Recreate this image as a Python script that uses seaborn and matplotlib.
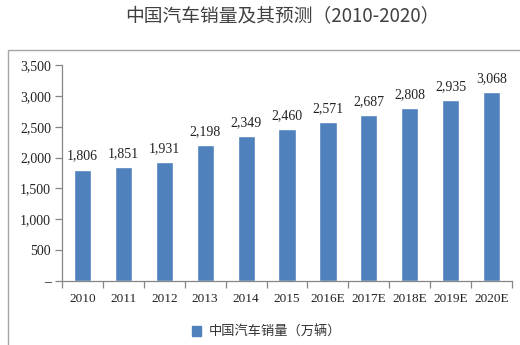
import matplotlib
matplotlib.use("Agg")
import matplotlib.pyplot as plt
import matplotlib.patches as mpatches
from matplotlib.ticker import FuncFormatter
import seaborn as sns
import pandas as pd

years = ["2010", "2011", "2012", "2013", "2014", "2015", "2016E", "2017E", "2018E", "2019E", "2020E"]
sales = [1806, 1851, 1931, 2198, 2349, 2460, 2571, 2687, 2808, 2935, 3068]
series_name = "中国汽车销量（万辆）"
title = "中国汽车销量及其预测（2010-2020）"

sns.set_theme(style="white")
plt.rcParams['font.family'] = ['Noto Sans CJK SC', 'DejaVu Sans']
num_font = ['Liberation Serif', 'DejaVu Serif']

df = pd.DataFrame({"year": years, "sales": sales})

fig = plt.figure(figsize=(5.2, 3.45), dpi=100)
ax = fig.add_axes([62/520, 1-281/345, (512-62)/520, (281-65)/345])

sns.barplot(data=df, x="year", y="sales", color="#4F81BD", width=0.42,
            saturation=1, ax=ax, label=series_name)

ax.set_ylim(0, 3500)
ax.set_xlim(-0.5, len(years)-0.5)
ax.set_yticks(range(0, 3501, 500))
ax.yaxis.set_major_formatter(FuncFormatter(lambda v, p: "–" if v == 0 else f"{int(v):,}"))
ax.set_xlabel("")
ax.set_ylabel("")

for s in ["top", "right"]:
    ax.spines[s].set_visible(False)
for s in ["left", "bottom"]:
    ax.spines[s].set_color("#868686")
    ax.spines[s].set_linewidth(0.9)

ax.tick_params(axis="y", which="major", length=5, width=0.9, color="#868686",
               direction="out", pad=3, labelsize=10, labelcolor="#222222", left=True)
ax.set_xticks([i - 0.5 for i in range(len(years) + 1)], minor=True)
ax.tick_params(axis="x", which="major", length=0, pad=9, labelsize=9.5, labelcolor="#222222")
ax.tick_params(axis="x", which="minor", length=5, width=0.9, color="#868686", direction="out", bottom=True)
for lab in ax.get_xticklabels() + ax.get_yticklabels():
    lab.set_family(num_font)

for c in ax.containers:
    ax.bar_label(c, labels=[f"{v:,}" for v in sales], padding=5,
                 fontsize=10, color="#222222", family=num_font)

if ax.legend_:
    ax.legend_.remove()
handle = mpatches.Patch(color="#4F81BD")
fig.legend([handle], [series_name], loc="center left",
           bbox_to_anchor=(180/520, 1-332/345), frameon=False,
           fontsize=9.5, handlelength=0.7, handleheight=0.7, handletextpad=0.6,
           labelcolor="#333333")

fig.text(282/520, 1-17/345, title, ha="center", va="center", fontsize=13.5, color="#404040")

rect = mpatches.Rectangle((8/520, -0.2), 1.2, 1-50/345+0.2, transform=fig.transFigure,
                          fill=False, edgecolor="#A6A6A6", linewidth=1.0)
fig.patches.append(rect)

fig.savefig("out.png", dpi=100, facecolor="white")
